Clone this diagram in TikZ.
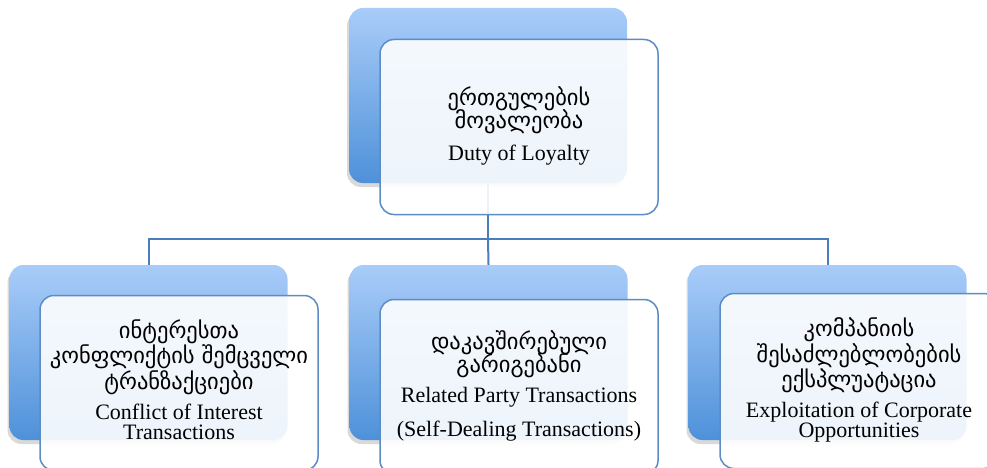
\documentclass[tikz,border=0pt]{standalone}
\usepackage{fontspec}
\setmainfont{Liberation Serif}
\newfontfamily\geofam{DejaVu Sans}
\usetikzlibrary{shadows}
\definecolor{backtop}{HTML}{A9CCF9}
\definecolor{backbot}{HTML}{4E91D9}
\definecolor{frontline}{HTML}{5B8CC6}
\definecolor{connline}{HTML}{4A7EBB}
\tikzset{
  backbox/.style={rectangle, rounded corners=14pt, minimum width=278pt, minimum height=175pt, inner sep=0pt,
    top color=backtop, bottom color=backbot, draw=none,
    drop shadow={shadow xshift=-2pt, shadow yshift=-4pt, opacity=0.25, fill=black!60}},
  frontbox/.style={rectangle, rounded corners=14pt, minimum width=278pt, minimum height=175pt, inner sep=0pt,
    draw=frontline, line width=1.5pt, fill=white, fill opacity=0.9, text opacity=1,
    font=\fontsize{22}{23}\selectfont},
  conn/.style={draw=connline, line width=2pt}
}
\newcommand{\mygeo}{\geofam\fontsize{22.5}{23}\selectfont}
\begin{document}
\begin{tikzpicture}[x=1pt,y=-1pt]
\useasboundingbox (0,0) rectangle (987,468);
\clip (0,0) rectangle (987,468);
% back boxes
\node[backbox] (tback) at (488,95.5) {};
\node[backbox] (lback) at (148.5,352.5) {};
\node[backbox] (mback) at (488.5,352.5) {};
\node[backbox] (rback) at (827.5,352.5) {};
% connectors
\coordinate (jn) at (488,239);
\draw[conn] (tback.south) -- (jn);
\draw[conn] (jn) -| (lback.north);
\draw[conn] (jn) -| (rback.north);
\draw[conn] (jn) -- (mback.north);
% front boxes
\node[frontbox] (tfront) at (519,127) {\begin{tabular}{c}
\mygeo ერთგულების\\[-2pt]
\mygeo მოვალეობა\\[9pt]
Duty of Loyalty
\end{tabular}};
\node[frontbox] (lfront) at (179,383) {\begin{tabular}{c}
\mygeo ინტერესთა\\
\mygeo კონფლიქტის შემცველი\\
\mygeo ტრანზაქციები\\[7pt]
Conflict of Interest\\[-3pt]
Transactions
\end{tabular}};
\node[frontbox] (mfront) at (519,387) {\begin{tabular}{c}
\mygeo დაკავშირებული\\[-2pt]
\mygeo გარიგებანი\\[7pt]
Related Party Transactions\\[11pt]
(Self-Dealing Transactions)
\end{tabular}};
\node[frontbox] (rfront) at (859,381) {\begin{tabular}{c}
\mygeo კომპანიის\\
\mygeo შესაძლებლობების\\
\mygeo ექსპლუატაცია\\[7pt]
Exploitation of Corporate\\[-3pt]
Opportunities
\end{tabular}};
\end{tikzpicture}
\end{document}
